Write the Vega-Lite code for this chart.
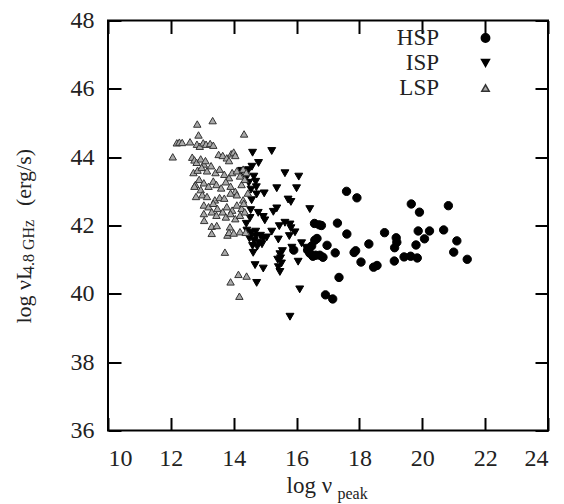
{
  "$schema": "https://vega.github.io/schema/vega-lite/v6.json",
  "width": 440,
  "height": 410,
  "autosize": {"type": "none"},
  "padding": {"left": 108, "top": 20.5, "right": 16, "bottom": 73.5},
  "background": "white",
  "config": {
    "view": {"stroke": "black", "strokeWidth": 2},
    "font": "Liberation Serif",
    "axis": {
      "grid": false, "domain": false, "tickColor": "black", "tickWidth": 2, "tickSize": -13,
      "labelFont": "Liberation Serif", "labelFontSize": 24, "labelColor": "#222",
      "titleFont": "Liberation Serif", "titleColor": "#222", "titleFontWeight": "normal"
    }
  },
  "data": {"values": [
    {"class":"HSP","x":17.59,"y":43.0},{"class":"HSP","x":17.92,"y":42.81},{"class":"HSP","x":19.65,"y":42.63},{"class":"HSP","x":19.91,"y":42.39},
    {"class":"HSP","x":20.83,"y":42.58},{"class":"HSP","x":17.30,"y":42.07},{"class":"HSP","x":16.57,"y":42.06},{"class":"HSP","x":16.79,"y":42.0},
    {"class":"HSP","x":17.60,"y":41.75},{"class":"HSP","x":18.80,"y":41.79},{"class":"HSP","x":19.87,"y":41.84},{"class":"HSP","x":20.23,"y":41.84},
    {"class":"HSP","x":20.68,"y":41.87},{"class":"HSP","x":21.10,"y":41.55},{"class":"HSP","x":20.07,"y":41.61},{"class":"HSP","x":19.17,"y":41.64},
    {"class":"HSP","x":19.19,"y":41.51},{"class":"HSP","x":19.12,"y":41.35},{"class":"HSP","x":19.80,"y":41.43},{"class":"HSP","x":18.30,"y":41.46},
    {"class":"HSP","x":16.65,"y":41.62},{"class":"HSP","x":16.58,"y":41.57},{"class":"HSP","x":16.97,"y":41.42},{"class":"HSP","x":17.23,"y":41.20},
    {"class":"HSP","x":17.88,"y":41.26},{"class":"HSP","x":17.83,"y":41.21},{"class":"HSP","x":21.00,"y":41.22},{"class":"HSP","x":21.43,"y":41.01},
    {"class":"HSP","x":18.05,"y":40.93},{"class":"HSP","x":18.56,"y":40.83},{"class":"HSP","x":18.45,"y":40.78},{"class":"HSP","x":19.11,"y":40.96},
    {"class":"HSP","x":19.42,"y":41.08},{"class":"HSP","x":19.63,"y":41.10},{"class":"HSP","x":19.84,"y":41.05},{"class":"HSP","x":16.42,"y":41.19},
    {"class":"HSP","x":16.52,"y":41.10},{"class":"HSP","x":16.61,"y":41.13},{"class":"HSP","x":16.74,"y":41.13},{"class":"HSP","x":16.84,"y":41.07},
    {"class":"HSP","x":17.35,"y":40.48},{"class":"HSP","x":16.92,"y":39.97},{"class":"HSP","x":17.15,"y":39.85},{"class":"HSP","x":15.91,"y":41.28},
    {"class":"HSP","x":16.72,"y":42.02},{"class":"HSP","x":16.35,"y":41.28},{"class":"HSP","x":16.48,"y":41.40},

    {"class":"ISP","x":14.60,"y":44.13},{"class":"ISP","x":15.21,"y":44.18},{"class":"ISP","x":14.79,"y":43.83},{"class":"ISP","x":14.58,"y":43.72},
    {"class":"ISP","x":14.47,"y":43.62},{"class":"ISP","x":14.25,"y":43.60},{"class":"ISP","x":14.40,"y":43.40},{"class":"ISP","x":14.64,"y":43.43},
    {"class":"ISP","x":14.70,"y":43.28},{"class":"ISP","x":14.72,"y":43.12},{"class":"ISP","x":15.63,"y":43.53},{"class":"ISP","x":16.07,"y":43.43},
    {"class":"ISP","x":15.37,"y":43.09},{"class":"ISP","x":16.00,"y":43.09},{"class":"ISP","x":14.97,"y":42.94},{"class":"ISP","x":14.73,"y":42.91},
    {"class":"ISP","x":15.73,"y":42.76},{"class":"ISP","x":15.82,"y":42.69},{"class":"ISP","x":14.57,"y":42.74},{"class":"ISP","x":15.37,"y":42.50},
    {"class":"ISP","x":15.26,"y":42.40},{"class":"ISP","x":16.42,"y":42.48},{"class":"ISP","x":14.54,"y":42.45},{"class":"ISP","x":14.78,"y":42.37},
    {"class":"ISP","x":14.94,"y":42.25},{"class":"ISP","x":14.99,"y":42.15},{"class":"ISP","x":15.63,"y":42.08},{"class":"ISP","x":15.79,"y":42.03},
    {"class":"ISP","x":15.82,"y":41.92},{"class":"ISP","x":15.45,"y":41.98},{"class":"ISP","x":15.21,"y":41.82},{"class":"ISP","x":15.42,"y":41.59},
    {"class":"ISP","x":15.77,"y":41.69},{"class":"ISP","x":16.16,"y":41.48},{"class":"ISP","x":14.62,"y":41.20},{"class":"ISP","x":14.68,"y":40.84},
    {"class":"ISP","x":14.94,"y":40.74},{"class":"ISP","x":14.73,"y":40.32},{"class":"ISP","x":15.47,"y":41.16},{"class":"ISP","x":15.49,"y":41.04},
    {"class":"ISP","x":15.52,"y":40.89},{"class":"ISP","x":15.47,"y":40.64},{"class":"ISP","x":15.42,"y":40.78},{"class":"ISP","x":16.05,"y":40.94},
    {"class":"ISP","x":16.10,"y":40.13},{"class":"ISP","x":15.79,"y":39.33},{"class":"ISP","x":15.85,"y":41.35},{"class":"ISP","x":14.42,"y":41.85},
    {"class":"ISP","x":14.55,"y":41.78},{"class":"ISP","x":14.70,"y":41.82},{"class":"ISP","x":14.85,"y":41.70},{"class":"ISP","x":14.50,"y":41.62},
    {"class":"ISP","x":14.65,"y":41.55},{"class":"ISP","x":14.80,"y":41.50},{"class":"ISP","x":14.95,"y":41.62},{"class":"ISP","x":14.60,"y":41.40},
    {"class":"ISP","x":14.75,"y":41.38},{"class":"ISP","x":14.90,"y":41.45},{"class":"ISP","x":15.05,"y":41.65},{"class":"ISP","x":14.70,"y":41.68},
    {"class":"ISP","x":14.40,"y":42.05},{"class":"ISP","x":14.52,"y":42.22},{"class":"ISP","x":16.30,"y":41.35},{"class":"ISP","x":15.95,"y":41.80},
    {"class":"ISP","x":15.55,"y":41.25},{"class":"ISP","x":15.40,"y":41.00},{"class":"ISP","x":14.48,"y":43.25},{"class":"ISP","x":14.55,"y":43.05},

    {"class":"LSP","x":12.84,"y":44.97},{"class":"LSP","x":13.33,"y":45.07},{"class":"LSP","x":12.88,"y":44.65},{"class":"LSP","x":14.33,"y":44.68},
    {"class":"LSP","x":12.06,"y":44.01},{"class":"LSP","x":12.19,"y":44.42},{"class":"LSP","x":12.27,"y":44.44},{"class":"LSP","x":12.36,"y":44.43},
    {"class":"LSP","x":12.61,"y":44.45},{"class":"LSP","x":12.83,"y":44.38},{"class":"LSP","x":12.92,"y":44.32},{"class":"LSP","x":13.03,"y":44.42},
    {"class":"LSP","x":13.12,"y":44.38},{"class":"LSP","x":13.25,"y":44.40},{"class":"LSP","x":13.35,"y":44.35},{"class":"LSP","x":12.68,"y":44.00},
    {"class":"LSP","x":12.75,"y":43.92},{"class":"LSP","x":12.82,"y":43.85},{"class":"LSP","x":12.95,"y":43.95},{"class":"LSP","x":13.05,"y":43.80},
    {"class":"LSP","x":13.10,"y":43.90},{"class":"LSP","x":13.52,"y":44.08},{"class":"LSP","x":13.65,"y":44.05},{"class":"LSP","x":13.78,"y":43.98},
    {"class":"LSP","x":13.92,"y":44.10},{"class":"LSP","x":14.00,"y":44.15},{"class":"LSP","x":14.05,"y":44.05},{"class":"LSP","x":13.85,"y":43.90},
    {"class":"LSP","x":12.72,"y":43.55},{"class":"LSP","x":12.85,"y":43.62},{"class":"LSP","x":12.98,"y":43.70},{"class":"LSP","x":13.15,"y":43.60},
    {"class":"LSP","x":13.28,"y":43.75},{"class":"LSP","x":13.42,"y":43.55},{"class":"LSP","x":13.55,"y":43.65},{"class":"LSP","x":13.70,"y":43.50},
    {"class":"LSP","x":13.85,"y":43.40},{"class":"LSP","x":13.95,"y":43.55},{"class":"LSP","x":14.10,"y":43.60},{"class":"LSP","x":14.20,"y":43.45},
    {"class":"LSP","x":14.30,"y":43.65},{"class":"LSP","x":14.40,"y":43.55},{"class":"LSP","x":12.78,"y":43.20},{"class":"LSP","x":12.90,"y":43.35},
    {"class":"LSP","x":12.75,"y":43.15},{"class":"LSP","x":12.95,"y":43.05},{"class":"LSP","x":13.05,"y":43.25},{"class":"LSP","x":13.20,"y":43.15},
    {"class":"LSP","x":13.35,"y":43.30},{"class":"LSP","x":13.45,"y":43.20},{"class":"LSP","x":13.60,"y":43.10},{"class":"LSP","x":13.75,"y":43.28},
    {"class":"LSP","x":13.90,"y":43.15},{"class":"LSP","x":14.05,"y":43.00},{"class":"LSP","x":14.25,"y":43.20},{"class":"LSP","x":14.35,"y":43.35},
    {"class":"LSP","x":12.80,"y":42.85},{"class":"LSP","x":13.00,"y":42.90},{"class":"LSP","x":13.15,"y":42.85},{"class":"LSP","x":13.40,"y":42.75},
    {"class":"LSP","x":13.55,"y":42.82},{"class":"LSP","x":13.70,"y":42.80},{"class":"LSP","x":13.90,"y":42.95},{"class":"LSP","x":14.10,"y":42.90},
    {"class":"LSP","x":14.30,"y":42.75},{"class":"LSP","x":14.45,"y":42.95},{"class":"LSP","x":13.05,"y":42.60},{"class":"LSP","x":13.20,"y":42.55},
    {"class":"LSP","x":13.35,"y":42.65},{"class":"LSP","x":13.48,"y":42.50},{"class":"LSP","x":13.65,"y":42.40},{"class":"LSP","x":13.78,"y":42.55},
    {"class":"LSP","x":13.95,"y":42.45},{"class":"LSP","x":14.10,"y":42.60},{"class":"LSP","x":14.25,"y":42.50},{"class":"LSP","x":14.32,"y":42.65},
    {"class":"LSP","x":13.05,"y":42.35},{"class":"LSP","x":13.30,"y":42.40},{"class":"LSP","x":13.45,"y":42.30},{"class":"LSP","x":13.75,"y":42.25},
    {"class":"LSP","x":13.90,"y":42.35},{"class":"LSP","x":14.05,"y":42.20},{"class":"LSP","x":14.20,"y":42.30},{"class":"LSP","x":14.35,"y":42.40},
    {"class":"LSP","x":13.06,"y":42.15},{"class":"LSP","x":13.30,"y":41.98},{"class":"LSP","x":13.46,"y":42.00},{"class":"LSP","x":13.30,"y":41.77},
    {"class":"LSP","x":13.88,"y":41.96},{"class":"LSP","x":13.80,"y":41.72},{"class":"LSP","x":13.85,"y":41.80},{"class":"LSP","x":14.00,"y":41.78},
    {"class":"LSP","x":14.20,"y":41.82},{"class":"LSP","x":14.38,"y":41.80},{"class":"LSP","x":13.72,"y":41.22},{"class":"LSP","x":14.15,"y":40.57},
    {"class":"LSP","x":14.41,"y":40.52},{"class":"LSP","x":13.90,"y":40.35},{"class":"LSP","x":14.18,"y":39.93}
  ]},
  "layer": [
    {
      "mark": {"type": "point", "filled": true, "opacity": 1, "strokeWidth": 1},
      "encoding": {
        "x": {"field": "x", "type": "quantitative",
          "scale": {"domain": [10, 24], "nice": false, "zero": false},
          "axis": {"orient": "bottom", "values": [10, 12, 14, 16, 18, 20, 22, 24], "labelPadding": 29,
            "title": "log ν", "titleFontSize": 23, "titleX": 178, "titleY": 61.5,
            "titleAlign": "left", "titleBaseline": "alphabetic", "titleAngle": 0}},
        "y": {"field": "y", "type": "quantitative",
          "scale": {"domain": [36, 48], "nice": false, "zero": false},
          "axis": {"orient": "left", "values": [36, 38, 40, 42, 44, 46, 48], "labelPadding": 27,
            "title": "log νL\u00a0\u00a0\u00a0\u00a0\u00a0\u00a0\u00a0\u00a0\u00a0\u00a0\u00a0(erg/s)", "titleFontSize": 22, "titleX": -77.3, "titleY": 302.5,
            "titleAlign": "left", "titleBaseline": "alphabetic", "titleAngle": -90}},
        "shape": {"field": "class", "type": "nominal",
          "scale": {"domain": ["HSP", "ISP", "LSP"], "range": ["circle", "triangle-down", "triangle-up"]},
          "legend": {"orient": "none", "legendX": 366, "legendY": 6, "title": null, "labelAlign": "right", "labelOffset": -58, "labelFont": "Liberation Serif", "labelFontSize": 23, "labelColor": "#222", "rowPadding": 1, "padding": 0}},
        "fill": {"field": "class", "type": "nominal",
          "scale": {"domain": ["HSP", "ISP", "LSP"], "range": ["black", "black", "#a9a9a9"]},
          "legend": {"orient": "none", "legendX": 366, "legendY": 6, "title": null, "labelAlign": "right", "labelOffset": -58, "labelFont": "Liberation Serif", "labelFontSize": 23, "labelColor": "#222", "rowPadding": 1, "padding": 0}},
        "stroke": {"field": "class", "type": "nominal",
          "scale": {"domain": ["HSP", "ISP", "LSP"], "range": ["black", "black", "#333333"]},
          "legend": {"orient": "none", "legendX": 366, "legendY": 6, "title": null, "labelAlign": "right", "labelOffset": -58, "labelFont": "Liberation Serif", "labelFontSize": 23, "labelColor": "#222", "rowPadding": 1, "padding": 0}},
        "size": {"field": "class", "type": "nominal",
          "scale": {"domain": ["HSP", "ISP", "LSP"], "range": [70, 55, 95]},
          "legend": {"orient": "none", "legendX": 366, "legendY": 6, "title": null, "labelAlign": "right", "labelOffset": -58, "labelFont": "Liberation Serif", "labelFontSize": 23, "labelColor": "#222", "rowPadding": 1, "padding": 0}}
      }
    },
    {
      "mark": {"type": "point", "opacity": 0},
      "encoding": {
        "x": {"field": "x", "type": "quantitative",
          "axis": {"orient": "top", "values": [10, 12, 14, 16, 18, 20, 22, 24], "labels": false,
            "title": "peak", "titleFontSize": 16, "titleX": 229, "titleY": 478,
            "titleAlign": "left", "titleBaseline": "alphabetic", "titleAngle": 0}},
        "y": {"field": "y", "type": "quantitative",
          "axis": {"orient": "right", "values": [36, 38, 40, 42, 44, 46, 48], "labels": false,
            "title": "4.8 GHz", "titleFontSize": 16, "titleX": -514.5, "titleY": 253,
            "titleAlign": "left", "titleBaseline": "alphabetic", "titleAngle": -90}}
      }
    }
  ],
  "resolve": {"axis": {"x": "independent", "y": "independent"}}
}
